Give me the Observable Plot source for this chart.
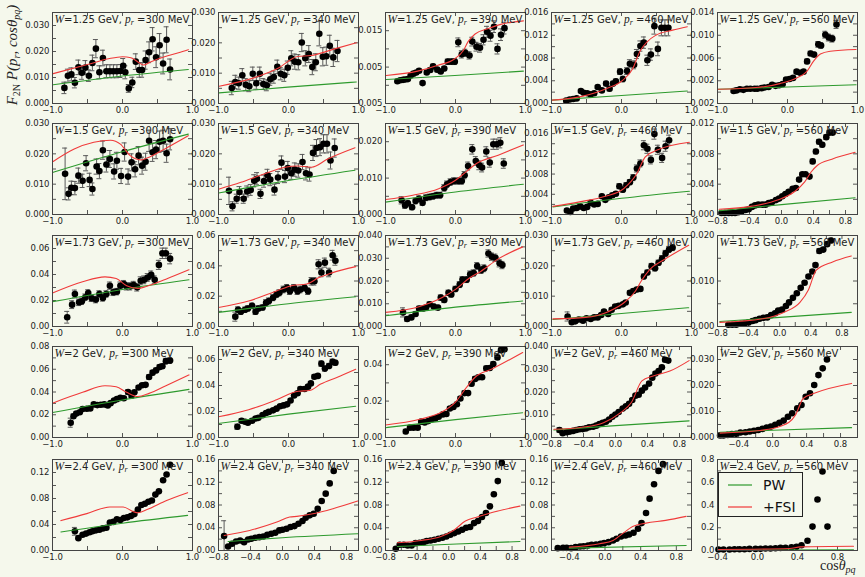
<!DOCTYPE html>
<html><head><meta charset="utf-8">
<script src="https://cdn.jsdelivr.net/npm/d3@7"></script>
<script src="https://cdn.jsdelivr.net/npm/@observablehq/plot@0.6"></script>
<style>
body{margin:0;background:#f5f8ec;}
#fig{position:relative;width:865px;height:577px;background:#f5f8ec;overflow:hidden;}
#fig svg.pp{position:absolute;}
</style></head><body><div id="fig"></div>
<script>
// ---------- labels ----------
const W_LABELS = ["1.25","1.5","1.73","2","2.4"];
const PR_LABELS = ["300","340","390","460","560"];
const LEGEND = ["PW","+FSI"];
const COLORS = ["#2e9a2e","#f03a3a"];

// ---------- data: [cos, value, error] ----------
const d11=[[-0.83,0.0060,0.0022],[-0.78,0.0107,0.0025],[-0.73,0.0112,0.0025],[-0.68,0.0080,0.0020],[-0.63,0.0139,0.0028],[-0.58,0.0118,0.0025],[-0.53,0.0138,0.0027],[-0.48,0.0107,0.0022],[-0.43,0.0156,0.0030],[-0.38,0.0211,0.0035],[-0.33,0.0120,0.0025],[-0.28,0.0175,0.0030],[-0.23,0.0124,0.0025],[-0.18,0.0124,0.0025],[-0.13,0.0124,0.0025],[-0.08,0.0124,0.0025],[-0.03,0.0125,0.0025],[0.01,0.0145,0.0028],[0.04,0.0120,0.0025],[0.09,0.0058,0.0015],[0.14,0.0081,0.0020],[0.19,0.0161,0.0030],[0.24,0.0129,0.0028],[0.28,0.0129,0.0028],[0.33,0.0167,0.0035],[0.38,0.0197,0.0040],[0.43,0.0247,0.0045],[0.48,0.0178,0.0040],[0.53,0.0224,0.0045],[0.58,0.0154,0.0040],[0.63,0.0245,0.0050],[0.68,0.0131,0.0040]];
const r11=[[-0.99,0.0115],[-0.5,0.0150],[-0.2,0.0172],[0.0,0.0180],[0.12,0.0176],[0.22,0.0160],[0.3,0.0148],[0.4,0.0160],[0.6,0.0180],[0.8,0.0195],[0.94,0.0207]];
const g11=[[-0.99,0.0072],[0.0,0.0106],[0.94,0.0131]];

const d12=[[-0.81,0.0051,0.0022],[-0.76,0.0071,0.0022],[-0.71,0.0067,0.0020],[-0.66,0.0093,0.0022],[-0.61,0.0062,0.0020],[-0.56,0.0057,0.0018],[-0.51,0.0098,0.0022],[-0.46,0.0067,0.0020],[-0.41,0.0098,0.0022],[-0.36,0.0064,0.0018],[-0.31,0.0060,0.0018],[-0.26,0.0080,0.0020],[-0.21,0.0087,0.0020],[-0.16,0.0121,0.0022],[-0.11,0.0098,0.0020],[-0.06,0.0093,0.0020],[-0.01,0.0118,0.0022],[0.04,0.0149,0.0025],[0.09,0.0138,0.0025],[0.14,0.0136,0.0025],[0.19,0.0201,0.0030],[0.24,0.0149,0.0025],[0.29,0.0163,0.0028],[0.34,0.0120,0.0025],[0.39,0.0136,0.0028],[0.44,0.0230,0.0040],[0.49,0.0154,0.0030],[0.54,0.0156,0.0030],[0.59,0.0190,0.0035],[0.64,0.0152,0.0030],[0.70,0.0173,0.0035]];
const r12=[[-0.99,0.0057],[-0.53,0.0082],[-0.15,0.0116],[0.13,0.0155],[0.32,0.0158],[0.66,0.0180],[0.97,0.0200]];
const g12=[[-0.99,0.0035],[-0.01,0.0054],[0.97,0.0071]];

const d13=[[-0.83,0.0011,0.0004],[-0.79,0.0014,0.0004],[-0.75,0.0015,0.0004],[-0.72,0.0016,0.0004],[-0.68,0.0017,0.0004],[-0.64,0.0027,0.0004],[-0.60,0.0032,0.0005],[-0.56,0.0035,0.0005],[-0.52,0.0040,0.0005],[-0.47,0.0006,0.0003],[-0.41,0.0035,0.0005],[-0.36,0.0042,0.0006],[-0.32,0.0052,0.0006],[-0.26,0.0043,0.0006],[-0.21,0.0038,0.0006],[-0.16,0.0046,0.0006],[-0.11,0.0065,0.0007],[-0.06,0.0065,0.0007],[-0.01,0.0065,0.0008],[0.04,0.0118,0.0012],[0.09,0.0085,0.0010],[0.14,0.0089,0.0010],[0.20,0.0082,0.0010],[0.24,0.0120,0.0012],[0.30,0.0106,0.0012],[0.35,0.0103,0.0012],[0.40,0.0125,0.0014],[0.45,0.0147,0.0015],[0.50,0.0136,0.0015],[0.55,0.0161,0.0016],[0.60,0.0100,0.0014],[0.65,0.0139,0.0016],[0.70,0.0157,0.0016]];
const r13=[[-0.99,0.0027],[-0.54,0.0039],[-0.25,0.0055],[-0.01,0.0073],[0.11,0.0095],[0.18,0.0120],[0.28,0.0141],[0.47,0.0156],[0.66,0.0168],[0.97,0.0177]];
const g13=[[-0.99,0.0016],[-0.01,0.0027],[0.97,0.0039]];

const d14=[[-0.79,0.0005,0.0002],[-0.74,0.0007,0.0002],[-0.69,0.0008,0.0002],[-0.64,0.0009,0.0002],[-0.58,0.0022,0.0003],[-0.54,0.0019,0.0003],[-0.49,0.0018,0.0003],[-0.44,0.0016,0.0003],[-0.39,0.0018,0.0003],[-0.34,0.0029,0.0003],[-0.28,0.0023,0.0003],[-0.22,0.0035,0.0004],[-0.17,0.0026,0.0004],[-0.12,0.0035,0.0004],[-0.08,0.0039,0.0004],[-0.02,0.0056,0.0005],[0.02,0.0043,0.0005],[0.08,0.0057,0.0006],[0.12,0.0070,0.0007],[0.18,0.0068,0.0007],[0.22,0.0087,0.0008],[0.27,0.0101,0.0009],[0.32,0.0107,0.0010],[0.37,0.0076,0.0009],[0.42,0.0086,0.0010],[0.47,0.0136,0.0014],[0.52,0.0096,0.0012],[0.57,0.0133,0.0014],[0.62,0.0133,0.0014],[0.67,0.0133,0.0014]];
const r14=[[-0.99,0.0006],[-0.55,0.0013],[-0.22,0.0026],[0.02,0.0041],[0.16,0.0061],[0.26,0.0091],[0.37,0.0109],[0.49,0.0120],[0.73,0.0129],[0.94,0.0135]];
const g14=[[-0.99,0.0006],[0.0,0.0014],[0.94,0.0022]];

const d15=[[-0.77,0.0002,0.0002],[-0.73,0.0003,0.0002],[-0.68,0.0005,0.0002],[-0.63,0.0004,0.0002],[-0.58,0.0006,0.0002],[-0.53,0.0006,0.0002],[-0.47,0.0006,0.0002],[-0.43,0.0006,0.0002],[-0.37,0.0007,0.0002],[-0.33,0.0008,0.0002],[-0.27,0.0009,0.0002],[-0.22,0.0013,0.0002],[-0.17,0.0011,0.0002],[-0.12,0.0012,0.0002],[-0.07,0.0014,0.0002],[-0.02,0.0022,0.0003],[0.03,0.0023,0.0003],[0.08,0.0025,0.0003],[0.13,0.0036,0.0003],[0.18,0.0034,0.0003],[0.23,0.0036,0.0003],[0.28,0.0054,0.0004],[0.33,0.0068,0.0004],[0.38,0.0066,0.0004],[0.44,0.0084,0.0005],[0.48,0.0082,0.0005],[0.54,0.0101,0.0006],[0.59,0.0096,0.0006],[0.64,0.0094,0.0006],[0.70,0.0119,0.0007]];
const r15=[[-0.99,0.0005],[-0.45,0.0008],[-0.11,0.0015],[0.13,0.0025],[0.28,0.0037],[0.37,0.0054],[0.47,0.0067],[0.61,0.0072],[0.98,0.0075]];
const g15=[[-0.99,0.0005],[0.0,0.0009],[0.98,0.0013]];

const d21=[[-0.82,0.0134,0.0085],[-0.77,0.0068,0.0020],[-0.73,0.0088,0.0022],[-0.68,0.0087,0.0022],[-0.63,0.0128,0.0025],[-0.57,0.0111,0.0022],[-0.52,0.0169,0.0025],[-0.47,0.0114,0.0022],[-0.43,0.0084,0.0020],[-0.37,0.0158,0.0025],[-0.33,0.0143,0.0025],[-0.28,0.0212,0.0030],[-0.23,0.0165,0.0025],[-0.18,0.0183,0.0028],[-0.12,0.0142,0.0025],[-0.08,0.0177,0.0028],[-0.02,0.0127,0.0025],[0.03,0.0206,0.0030],[0.08,0.0125,0.0025],[0.13,0.0172,0.0028],[0.18,0.0149,0.0025],[0.23,0.0194,0.0030],[0.28,0.0161,0.0028],[0.33,0.0174,0.0028],[0.38,0.0243,0.0035],[0.43,0.0205,0.0030],[0.48,0.0214,0.0030],[0.53,0.0240,0.0035],[0.58,0.0243,0.0035],[0.63,0.0202,0.0030],[0.68,0.0248,0.0035]];
const r21=[[-0.99,0.0175],[-0.69,0.0216],[-0.41,0.0238],[-0.17,0.0245],[-0.03,0.0232],[0.11,0.0194],[0.26,0.0180],[0.35,0.0186],[0.64,0.0221],[0.94,0.0260]];
const g21=[[-0.99,0.0139],[-0.03,0.0205],[0.94,0.0265]];

const d22=[[-0.85,0.0078,0.0045],[-0.80,0.0027,0.0015],[-0.74,0.0052,0.0015],[-0.70,0.0074,0.0018],[-0.64,0.0052,0.0015],[-0.59,0.0076,0.0018],[-0.54,0.0081,0.0018],[-0.49,0.0111,0.0020],[-0.45,0.0118,0.0020],[-0.40,0.0068,0.0015],[-0.35,0.0110,0.0020],[-0.30,0.0129,0.0020],[-0.26,0.0115,0.0020],[-0.20,0.0082,0.0018],[-0.15,0.0122,0.0020],[-0.10,0.0171,0.0022],[-0.05,0.0125,0.0020],[-0.01,0.0153,0.0022],[0.04,0.0136,0.0020],[0.09,0.0148,0.0022],[0.14,0.0145,0.0022],[0.20,0.0173,0.0025],[0.25,0.0136,0.0022],[0.30,0.0132,0.0022],[0.35,0.0203,0.0025],[0.40,0.0219,0.0028],[0.45,0.0222,0.0028],[0.50,0.0233,0.0030],[0.55,0.0233,0.0030],[0.60,0.0178,0.0028],[0.66,0.0219,0.0030]];
const r22=[[-1.0,0.0083],[-0.68,0.0106],[-0.37,0.0132],[-0.05,0.0156],[0.13,0.0160],[0.33,0.0156],[0.56,0.0183],[0.95,0.0220]];
const g22=[[-1.0,0.0071],[0.0,0.0112],[0.95,0.0146]];

const d23=[[-0.77,0.0039,0.0010],[-0.72,0.0025,0.0008],[-0.68,0.0031,0.0008],[-0.62,0.0020,0.0007],[-0.57,0.0037,0.0008],[-0.52,0.0043,0.0008],[-0.47,0.0032,0.0007],[-0.42,0.0046,0.0008],[-0.37,0.0048,0.0008],[-0.32,0.0050,0.0008],[-0.27,0.0053,0.0008],[-0.22,0.0053,0.0008],[-0.16,0.0073,0.0009],[-0.12,0.0083,0.0009],[-0.07,0.0089,0.0009],[-0.02,0.0092,0.0009],[0.04,0.0092,0.0009],[0.09,0.0092,0.0009],[0.13,0.0108,0.0010],[0.18,0.0133,0.0011],[0.24,0.0179,0.0013],[0.29,0.0147,0.0012],[0.34,0.0135,0.0012],[0.38,0.0129,0.0012],[0.44,0.0173,0.0013],[0.49,0.0143,0.0013],[0.54,0.0193,0.0014],[0.59,0.0193,0.0014],[0.64,0.0197,0.0014],[0.69,0.0140,0.0013]];
const r23=[[-1.0,0.0041],[-0.61,0.0053],[-0.24,0.0071],[0.0,0.0094],[0.15,0.0117],[0.30,0.0140],[0.61,0.0163],[0.97,0.0191]];
const g23=[[-1.0,0.0034],[0.0,0.0062],[0.97,0.0083]];

const d24=[[-0.78,0.0008,0.0003],[-0.73,0.0005,0.0003],[-0.69,0.0012,0.0003],[-0.64,0.0013,0.0003],[-0.59,0.0016,0.0003],[-0.54,0.0013,0.0003],[-0.49,0.0015,0.0003],[-0.44,0.0023,0.0003],[-0.39,0.0020,0.0003],[-0.34,0.0021,0.0003],[-0.28,0.0036,0.0004],[-0.23,0.0029,0.0004],[-0.18,0.0034,0.0004],[-0.13,0.0038,0.0004],[-0.08,0.0041,0.0004],[-0.03,0.0056,0.0005],[0.02,0.0049,0.0005],[0.07,0.0058,0.0005],[0.12,0.0064,0.0005],[0.17,0.0073,0.0006],[0.22,0.0091,0.0007],[0.27,0.0101,0.0007],[0.32,0.0137,0.0009],[0.37,0.0130,0.0009],[0.42,0.0108,0.0008],[0.47,0.0159,0.0010],[0.52,0.0128,0.0009],[0.58,0.0112,0.0009],[0.63,0.0135,0.0010],[0.68,0.0147,0.0010]];
const r24=[[-0.98,0.0016],[-0.60,0.0025],[-0.23,0.0036],[0.03,0.0051],[0.22,0.0081],[0.34,0.0114],[0.52,0.0128],[0.97,0.0143]];
const g24=[[-0.98,0.0015],[0.0,0.0032],[0.97,0.0046]];

const d25=[[-0.75,0.0002,0.0001],[-0.71,0.0002,0.0001],[-0.66,0.0002,0.0001],[-0.62,0.0002,0.0001],[-0.58,0.0002,0.0001],[-0.54,0.0003,0.0001],[-0.50,0.0004,0.0001],[-0.45,0.0006,0.0001],[-0.41,0.0007,0.0001],[-0.37,0.0010,0.0001],[-0.33,0.0012,0.0001],[-0.29,0.0013,0.0001],[-0.24,0.0013,0.0001],[-0.20,0.0013,0.0001],[-0.16,0.0015,0.0001],[-0.12,0.0016,0.0001],[-0.07,0.0019,0.0002],[-0.03,0.0021,0.0002],[0.01,0.0024,0.0002],[0.05,0.0027,0.0002],[0.09,0.0030,0.0002],[0.14,0.0034,0.0002],[0.18,0.0035,0.0002],[0.22,0.0046,0.0002],[0.26,0.0053,0.0002],[0.30,0.0053,0.0002],[0.35,0.0050,0.0002],[0.39,0.0070,0.0003],[0.43,0.0083,0.0003],[0.47,0.0096,0.0003],[0.51,0.0092,0.0003],[0.56,0.0102,0.0003],[0.60,0.0108,0.0003],[0.64,0.0108,0.0003]];
const r25=[[-0.78,0.0007],[-0.37,0.0011],[-0.05,0.0019],[0.16,0.0030],[0.29,0.0043],[0.37,0.0056],[0.45,0.0065],[0.63,0.0073],[0.92,0.0082]];
const g25=[[-0.78,0.0005],[0.0,0.0013],[0.92,0.0022]];

const d31=[[-0.79,0.0071,0.0045],[-0.72,0.0168,0.0030],[-0.68,0.0250,0.0030],[-0.62,0.0186,0.0025],[-0.58,0.0194,0.0025],[-0.53,0.0225,0.0025],[-0.49,0.0258,0.0025],[-0.44,0.0217,0.0025],[-0.38,0.0207,0.0025],[-0.33,0.0250,0.0025],[-0.28,0.0220,0.0025],[-0.23,0.0250,0.0025],[-0.18,0.0314,0.0028],[-0.13,0.0263,0.0025],[-0.08,0.0268,0.0025],[-0.03,0.0314,0.0028],[0.02,0.0326,0.0028],[0.06,0.0309,0.0028],[0.11,0.0309,0.0028],[0.16,0.0319,0.0028],[0.21,0.0301,0.0028],[0.26,0.0352,0.0030],[0.31,0.0359,0.0030],[0.36,0.0377,0.0030],[0.41,0.0397,0.0030],[0.46,0.0359,0.0030],[0.52,0.0474,0.0035],[0.57,0.0563,0.0040],[0.62,0.0563,0.0040],[0.68,0.0522,0.0040]];
const r31=[[-1.0,0.0257],[-0.57,0.0344],[-0.25,0.0382],[-0.09,0.0369],[0.06,0.0313],[0.22,0.0293],[0.34,0.0308],[0.62,0.0364],[0.95,0.0436]];
const g31=[[-1.0,0.0191],[0.0,0.0285],[0.95,0.0359]];

const d32=[[-0.76,0.0065,0.0030],[-0.72,0.0110,0.0020],[-0.68,0.0097,0.0018],[-0.62,0.0110,0.0018],[-0.58,0.0119,0.0018],[-0.52,0.0136,0.0018],[-0.47,0.0097,0.0018],[-0.43,0.0119,0.0018],[-0.37,0.0125,0.0018],[-0.32,0.0157,0.0020],[-0.28,0.0168,0.0020],[-0.22,0.0190,0.0020],[-0.17,0.0211,0.0020],[-0.13,0.0222,0.0020],[-0.07,0.0244,0.0022],[-0.02,0.0255,0.0022],[0.02,0.0233,0.0022],[0.08,0.0255,0.0022],[0.13,0.0233,0.0022],[0.17,0.0244,0.0022],[0.23,0.0255,0.0022],[0.28,0.0233,0.0022],[0.33,0.0298,0.0025],[0.37,0.0298,0.0025],[0.43,0.0410,0.0030],[0.47,0.0356,0.0028],[0.52,0.0421,0.0030],[0.58,0.0356,0.0028],[0.63,0.0470,0.0032],[0.67,0.0434,0.0030]];
const r32=[[-1.0,0.0125],[-0.57,0.0168],[-0.18,0.0233],[0.06,0.0270],[0.26,0.0280],[0.42,0.0319],[0.61,0.0352],[0.96,0.0395]];
const g32=[[-1.0,0.0093],[0.0,0.0150],[0.96,0.0196]];

const d33=[[-0.75,0.0062,0.0020],[-0.69,0.0033,0.0010],[-0.63,0.0040,0.0010],[-0.57,0.0055,0.0010],[-0.52,0.0079,0.0010],[-0.46,0.0079,0.0010],[-0.42,0.0083,0.0010],[-0.37,0.0098,0.0010],[-0.31,0.0088,0.0010],[-0.25,0.0083,0.0010],[-0.21,0.0127,0.0012],[-0.16,0.0117,0.0012],[-0.10,0.0148,0.0012],[-0.06,0.0141,0.0012],[0.0,0.0165,0.0012],[0.06,0.0184,0.0013],[0.10,0.0206,0.0013],[0.16,0.0206,0.0013],[0.21,0.0230,0.0014],[0.26,0.0235,0.0014],[0.31,0.0266,0.0015],[0.37,0.0248,0.0015],[0.41,0.0256,0.0015],[0.47,0.0321,0.0016],[0.52,0.0307,0.0016],[0.57,0.0302,0.0016],[0.63,0.0278,0.0016],[0.67,0.0270,0.0016]];
const r33=[[-1.0,0.0062],[-0.51,0.0088],[-0.19,0.0127],[0.0,0.0163],[0.20,0.0213],[0.36,0.0242],[0.60,0.0295],[0.96,0.0350]];
const g33=[[-1.0,0.0047],[0.0,0.0085],[0.96,0.0112]];

const d34=[[-0.77,0.0033,0.0015],[-0.71,0.0014,0.0005],[-0.66,0.0017,0.0005],[-0.61,0.0023,0.0005],[-0.55,0.0019,0.0005],[-0.50,0.0027,0.0005],[-0.44,0.0025,0.0005],[-0.39,0.0030,0.0005],[-0.34,0.0030,0.0005],[-0.29,0.0038,0.0005],[-0.25,0.0049,0.0005],[-0.19,0.0041,0.0005],[-0.14,0.0055,0.0006],[-0.09,0.0066,0.0006],[-0.04,0.0068,0.0006],[0.02,0.0073,0.0006],[0.06,0.0079,0.0006],[0.12,0.0111,0.0007],[0.17,0.0117,0.0007],[0.22,0.0122,0.0007],[0.27,0.0124,0.0007],[0.32,0.0165,0.0008],[0.37,0.0178,0.0008],[0.43,0.0199,0.0009],[0.48,0.0192,0.0009],[0.53,0.0210,0.0009],[0.58,0.0224,0.0010],[0.63,0.0241,0.0010],[0.68,0.0254,0.0010],[0.73,0.0260,0.0010]];
const r34=[[-0.98,0.0025],[-0.51,0.0030],[-0.19,0.0049],[0.04,0.0079],[0.20,0.0117],[0.28,0.0149],[0.40,0.0187],[0.60,0.0219],[0.96,0.0268]];
const g34=[[-0.98,0.0023],[0.0,0.0043],[0.96,0.0062]];

const d35=[[-0.66,0.0004,0.0002],[-0.61,0.0004,0.0002],[-0.56,0.0004,0.0002],[-0.50,0.0006,0.0002],[-0.45,0.0007,0.0002],[-0.40,0.0009,0.0002],[-0.35,0.0012,0.0002],[-0.31,0.0014,0.0002],[-0.26,0.0017,0.0002],[-0.21,0.0019,0.0002],[-0.16,0.0020,0.0002],[-0.11,0.0025,0.0002],[-0.06,0.0029,0.0002],[-0.02,0.0035,0.0002],[0.03,0.0037,0.0002],[0.08,0.0045,0.0003],[0.12,0.0053,0.0003],[0.17,0.0063,0.0003],[0.22,0.0073,0.0003],[0.27,0.0085,0.0003],[0.32,0.0096,0.0003],[0.37,0.0110,0.0003],[0.42,0.0121,0.0004],[0.46,0.0135,0.0004],[0.51,0.0166,0.0005],[0.56,0.0169,0.0005],[0.61,0.0181,0.0005],[0.66,0.0189,0.0005]];
const r35=[[-0.77,0.0009],[-0.22,0.0017],[0.05,0.0031],[0.26,0.0053],[0.37,0.0081],[0.47,0.0124],[0.68,0.0142],[0.92,0.0155]];
const g35=[[-0.77,0.0011],[0.0,0.0020],[0.92,0.0031]];

const d41=[[-0.74,0.0130,0.0040],[-0.70,0.0187,0.0020],[-0.66,0.0210,0.0015],[-0.61,0.0222,0.0015],[-0.57,0.0250,0.0015],[-0.51,0.0253,0.0015],[-0.46,0.0256,0.0015],[-0.41,0.0291,0.0015],[-0.36,0.0285,0.0015],[-0.31,0.0288,0.0015],[-0.26,0.0291,0.0015],[-0.21,0.0282,0.0015],[-0.17,0.0302,0.0015],[-0.12,0.0325,0.0015],[-0.08,0.0337,0.0015],[-0.03,0.0348,0.0015],[0.02,0.0345,0.0015],[0.08,0.0400,0.0020],[0.13,0.0368,0.0015],[0.17,0.0397,0.0015],[0.23,0.0440,0.0015],[0.28,0.0460,0.0015],[0.33,0.0463,0.0015],[0.38,0.0532,0.0020],[0.43,0.0570,0.0020],[0.48,0.0590,0.0020],[0.53,0.0619,0.0020],[0.57,0.0627,0.0020],[0.62,0.0671,0.0025],[0.68,0.0676,0.0025]];
const r41=[[-1.0,0.0302],[-0.57,0.0397],[-0.25,0.0455],[-0.09,0.0446],[0.06,0.0397],[0.22,0.0360],[0.38,0.0388],[0.62,0.0455],[0.95,0.0550]];
const g41=[[-1.0,0.0219],[0.0,0.0330],[0.95,0.0423]];

const d42=[[-0.73,0.0083,0.0020],[-0.67,0.0129,0.0015],[-0.62,0.0121,0.0012],[-0.58,0.0113,0.0012],[-0.52,0.0129,0.0012],[-0.47,0.0146,0.0012],[-0.43,0.0151,0.0012],[-0.37,0.0172,0.0012],[-0.32,0.0189,0.0012],[-0.28,0.0197,0.0012],[-0.22,0.0209,0.0012],[-0.17,0.0222,0.0012],[-0.12,0.0240,0.0012],[-0.07,0.0247,0.0012],[-0.02,0.0255,0.0012],[0.03,0.0285,0.0012],[0.08,0.0323,0.0015],[0.13,0.0340,0.0015],[0.17,0.0373,0.0015],[0.23,0.0373,0.0015],[0.28,0.0391,0.0015],[0.32,0.0416,0.0015],[0.37,0.0467,0.0015],[0.42,0.0474,0.0015],[0.47,0.0568,0.0020],[0.52,0.0530,0.0020],[0.58,0.0550,0.0020],[0.63,0.0583,0.0020],[0.67,0.0575,0.0020]];
const r42=[[-1.0,0.0159],[-0.57,0.0214],[-0.17,0.0290],[0.14,0.0356],[0.30,0.0361],[0.46,0.0411],[0.69,0.0462],[0.96,0.0525]];
const g42=[[-1.0,0.0108],[0.0,0.0180],[0.96,0.0240]];

const d43=[[-0.71,0.0033,0.0012],[-0.65,0.0054,0.0010],[-0.60,0.0054,0.0010],[-0.54,0.0054,0.0010],[-0.49,0.0087,0.0010],[-0.44,0.0083,0.0010],[-0.39,0.0090,0.0010],[-0.34,0.0100,0.0010],[-0.29,0.0105,0.0010],[-0.24,0.0114,0.0010],[-0.18,0.0127,0.0010],[-0.13,0.0129,0.0010],[-0.08,0.0159,0.0010],[-0.03,0.0168,0.0010],[0.02,0.0183,0.0010],[0.07,0.0214,0.0010],[0.13,0.0244,0.0012],[0.18,0.0244,0.0012],[0.23,0.0295,0.0012],[0.28,0.0322,0.0012],[0.33,0.0331,0.0012],[0.38,0.0331,0.0012],[0.44,0.0380,0.0012],[0.49,0.0382,0.0012],[0.54,0.0404,0.0012],[0.60,0.0440,0.0012],[0.65,0.0480,0.0012],[0.70,0.0485,0.0012]];
const r43=[[-1.0,0.0069],[-0.51,0.0100],[-0.19,0.0141],[0.0,0.0195],[0.16,0.0277],[0.28,0.0331],[0.52,0.0376],[0.96,0.0467]];
const g43=[[-1.0,0.0054],[0.0,0.0098],[0.96,0.0136]];

const d44=[[-0.70,0.0033,0.0010],[-0.66,0.0019,0.0005],[-0.61,0.0023,0.0004],[-0.57,0.0026,0.0004],[-0.53,0.0029,0.0004],[-0.49,0.0033,0.0004],[-0.45,0.0036,0.0004],[-0.41,0.0037,0.0004],[-0.37,0.0040,0.0004],[-0.33,0.0045,0.0004],[-0.28,0.0047,0.0004],[-0.24,0.0052,0.0004],[-0.20,0.0059,0.0004],[-0.16,0.0065,0.0004],[-0.12,0.0069,0.0004],[-0.08,0.0079,0.0004],[-0.04,0.0091,0.0005],[0.0,0.0101,0.0005],[0.04,0.0112,0.0005],[0.09,0.0127,0.0005],[0.13,0.0137,0.0005],[0.17,0.0148,0.0005],[0.21,0.0165,0.0006],[0.25,0.0184,0.0006],[0.29,0.0188,0.0006],[0.33,0.0206,0.0006],[0.37,0.0220,0.0007],[0.42,0.0237,0.0007],[0.46,0.0263,0.0007],[0.50,0.0281,0.0008],[0.54,0.0292,0.0008],[0.58,0.0309,0.0008],[0.62,0.0342,0.0009],[0.66,0.0338,0.0009]];
const r44=[[-0.77,0.0036],[-0.42,0.0045],[-0.15,0.0065],[0.06,0.0108],[0.20,0.0155],[0.33,0.0249],[0.47,0.0270],[0.68,0.0292],[0.92,0.0338]];
const g44=[[-0.77,0.0033],[0.0,0.0052],[0.92,0.0073]];

const d45=[[-0.62,0.0008,0.0002],[-0.58,0.0008,0.0002],[-0.53,0.0010,0.0002],[-0.48,0.0013,0.0002],[-0.43,0.0014,0.0002],[-0.38,0.0019,0.0002],[-0.32,0.0020,0.0002],[-0.27,0.0023,0.0002],[-0.22,0.0026,0.0002],[-0.17,0.0029,0.0002],[-0.12,0.0033,0.0002],[-0.07,0.0038,0.0002],[-0.02,0.0042,0.0002],[0.03,0.0049,0.0002],[0.08,0.0057,0.0003],[0.13,0.0065,0.0003],[0.18,0.0080,0.0003],[0.23,0.0093,0.0003],[0.29,0.0112,0.0003],[0.34,0.0125,0.0003],[0.39,0.0157,0.0004],[0.44,0.0170,0.0004],[0.49,0.0202,0.0004],[0.54,0.0240,0.0005],[0.59,0.0266,0.0005],[0.64,0.0300,0.0005]];
const r45=[[-0.62,0.0017],[-0.15,0.0027],[0.11,0.0045],[0.27,0.0087],[0.36,0.0150],[0.49,0.0170],[0.93,0.0208]];
const g45=[[-0.62,0.0020],[0.0,0.0028],[0.93,0.0038]];

const d51=[[-0.68,0.0295,0.0060],[-0.63,0.0190,0.0015],[-0.57,0.0243,0.0012],[-0.52,0.0260,0.0012],[-0.47,0.0280,0.0012],[-0.43,0.0295,0.0012],[-0.38,0.0310,0.0012],[-0.33,0.0320,0.0012],[-0.28,0.0340,0.0012],[-0.23,0.0350,0.0012],[-0.18,0.0430,0.0012],[-0.13,0.0440,0.0012],[-0.08,0.0480,0.0012],[-0.03,0.0470,0.0012],[0.02,0.0500,0.0012],[0.07,0.0510,0.0012],[0.12,0.0530,0.0012],[0.17,0.0560,0.0012],[0.22,0.0630,0.0012],[0.27,0.0700,0.0015],[0.32,0.0720,0.0015],[0.37,0.0750,0.0015],[0.42,0.0770,0.0015],[0.47,0.0860,0.0015],[0.52,0.0910,0.0015],[0.58,0.1080,0.0015],[0.63,0.1170,0.0015],[0.68,0.1320,0.0015]];
const r51=[[-0.88,0.0460],[-0.51,0.0567],[-0.18,0.0670],[0.01,0.0670],[0.15,0.0600],[0.22,0.0580],[0.35,0.0630],[0.63,0.0770],[0.93,0.0890]];
const g51=[[-0.88,0.0285],[0.0,0.0420],[0.93,0.0540]];

const d52=[[-0.73,0.0253,0.027],[-0.68,0.0071,0],[-0.63,0.0118,0],[-0.58,0.0159,0],[-0.53,0.0176,0],[-0.48,0.0147,0],[-0.43,0.0194,0],[-0.39,0.0206,0],[-0.34,0.0224,0],[-0.29,0.0235,0],[-0.24,0.0247,0],[-0.19,0.0276,0],[-0.14,0.0294,0],[-0.09,0.0312,0],[-0.04,0.0353,0],[0.0,0.0365,0],[0.05,0.0382,0],[0.10,0.0412,0],[0.15,0.0429,0],[0.20,0.0471,0],[0.25,0.0518,0],[0.29,0.0576,0],[0.34,0.0618,0],[0.39,0.0647,0],[0.44,0.0735,0],[0.49,0.0871,0],[0.54,0.1000,0],[0.59,0.1180,0],[0.64,0.1400,0]];
const r52=[[-0.73,0.0265],[-0.41,0.0353],[-0.07,0.0500],[0.09,0.0588],[0.18,0.0600],[0.38,0.0647],[0.63,0.0735],[0.94,0.0870]];
const g52=[[-0.68,0.0159],[0.0,0.0225],[0.94,0.0294]];

const d53=[[-0.67,0.0030,0],[-0.62,0.0100,0],[-0.57,0.0100,0],[-0.52,0.0088,0],[-0.47,0.0088,0],[-0.42,0.0129,0],[-0.37,0.0135,0],[-0.32,0.0147,0],[-0.28,0.0165,0],[-0.23,0.0176,0],[-0.18,0.0188,0],[-0.13,0.0206,0],[-0.08,0.0224,0],[-0.03,0.0247,0],[0.02,0.0276,0],[0.07,0.0306,0],[0.12,0.0335,0],[0.17,0.0365,0],[0.22,0.0400,0],[0.27,0.0412,0],[0.32,0.0482,0],[0.37,0.0518,0],[0.42,0.0588,0],[0.47,0.0659,0],[0.52,0.0776,0],[0.57,0.0988,0],[0.62,0.1220,0],[0.67,0.1540,0]];
const r53=[[-0.65,0.0135],[-0.35,0.0176],[-0.10,0.0247],[0.06,0.0353],[0.21,0.0518],[0.36,0.0588],[0.57,0.0676],[0.90,0.0780]];
const g53=[[-0.65,0.0070],[0.1,0.0115],[0.90,0.0159]];

const d54=[[-0.53,0.0041,0],[-0.47,0.0047,0],[-0.43,0.0047,0],[-0.38,0.0041,0],[-0.33,0.0059,0],[-0.28,0.0071,0],[-0.24,0.0076,0],[-0.19,0.0088,0],[-0.15,0.0100,0],[-0.10,0.0106,0],[-0.05,0.0118,0],[-0.01,0.0129,0],[0.04,0.0147,0],[0.09,0.0176,0],[0.13,0.0206,0],[0.18,0.0247,0],[0.23,0.0265,0],[0.27,0.0282,0],[0.32,0.0312,0],[0.37,0.0382,0],[0.41,0.0482,0],[0.46,0.0659,0],[0.50,0.0912,0],[0.55,0.1165,0],[0.60,0.1400,0],[0.65,0.1518,0]];
const r54=[[-0.40,0.0059],[-0.06,0.0118],[0.09,0.0176],[0.22,0.0324],[0.31,0.0424],[0.46,0.0482],[0.68,0.0529],[0.91,0.0600]];
const g54=[[-0.40,0.0041],[0.91,0.0088]];

const d55=[[-0.39,0.0086,0],[-0.34,0.0086,0],[-0.28,0.0086,0],[-0.23,0.0115,0],[-0.18,0.0115,0],[-0.13,0.0115,0],[-0.08,0.0140,0],[-0.02,0.0140,0],[0.03,0.0145,0],[0.08,0.0170,0],[0.13,0.0175,0],[0.18,0.0200,0],[0.23,0.0230,0],[0.28,0.0240,0],[0.34,0.0290,0],[0.39,0.0320,0],[0.44,0.0460,0],[0.50,0.0860,0],[0.55,0.2100,0],[0.60,0.4490,0],[0.65,0.6940,0],[0.70,0.2100,0]];
const r55=[[-0.39,0.0086],[0.32,0.0170],[0.43,0.0320],[0.96,0.0370]];
const g55=[[-0.39,0.0030],[0.96,0.0060]];

// ---------- axis settings per panel (row-major) ----------
const X_FULL=[-1,1], X_08=[-0.8,0.95];
const XDOM=[X_FULL,X_FULL,X_FULL,X_FULL,X_FULL,
            X_FULL,X_FULL,X_FULL,X_FULL,X_08,
            X_FULL,X_FULL,X_FULL,X_FULL,[-0.8,1.0],
            X_FULL,X_FULL,X_FULL,X_08,[-0.65,1.0],
            X_FULL,X_08,[-0.8,0.97],[-0.6,0.97],[-0.4,1.0]];
const XTICKS_FULL=[-1,0,1], XMINOR_FULL=[-0.5,0.5];
const XTICKS_04=[-0.8,-0.4,0,0.4,0.8], XMINOR_04=[-0.6,-0.2,0.2,0.6,1.0];
const YDOM=[[0,0.035],[0,0.03],[-0.005,0.02],[0,0.016],[-0.002,0.014],
            [0,0.03],[0,0.03],[0,0.025],[0,0.018],[0,0.012],
            [0,0.07],[0,0.06],[0,0.04],[0,0.03],[0,0.02],
            [0,0.08],[0,0.07],[0,0.05],[0,0.04],[0,0.035],
            [0,0.14],[0,0.16],[0,0.16],[0,0.16],[0,0.8]];
const YSTEP=[0.01,0.01,0.01,0.004,0.004,
             0.01,0.01,0.01,0.004,0.004,
             0.02,0.02,0.01,0.01,0.01,
             0.02,0.02,0.02,0.01,0.01,
             0.04,0.04,0.04,0.04,0.2];
const YDEC=[3,3,3,3,3, 3,3,3,3,3, 2,2,3,3,3, 2,2,2,3,3, 2,2,2,2,1];

const DATA=[d11,d12,d13,d14,d15,d21,d22,d23,d24,d25,d31,d32,d33,d34,d35,d41,d42,d43,d44,d45,d51,d52,d53,d54,d55];
const RED=[r11,r12,r13,r14,r15,r21,r22,r23,r24,r25,r31,r32,r33,r34,r35,r41,r42,r43,r44,r45,r51,r52,r53,r54,r55];
const GREEN=[g11,g12,g13,g14,g15,g21,g22,g23,g24,g25,g31,g32,g33,g34,g35,g41,g42,g43,g44,g45,g51,g52,g53,g54,g55];

// ---------- layout ----------
const COL_LEFT=[52,218,384.5,551,717], ROW_TOP=[12,123,234.5,346,458.5];
const PW=140, PH=91, ML=40, MR=12, MT=6, MB=16;
const NS="http://www.w3.org/2000/svg";
const fig=document.getElementById("fig");
const minus = s => s.replace("-", "\u2212");

function panel(r, c) {
  const k = r*5+c;
  const [x0,x1] = XDOM[k], [y0,y1] = YDOM[k];
  const full = x0 === -1;
  const xt = (full ? XTICKS_FULL : XTICKS_04).filter(v => v >= x0-1e-9 && v <= x1+1e-9);
  const xm = (full ? XMINOR_FULL : XMINOR_04).filter(v => v >= x0-1e-9 && v <= x1+1e-9);
  const st = YSTEP[k];
  const yt = d3.range(0, 60).map(i => +(y0 + i*st).toFixed(6)).filter(v => v <= y1+1e-9);
  const ym = yt.map(v => +(v + st/2).toFixed(6)).filter(v => v <= y1+1e-9);
  const allX = xt.concat(xm), allY = yt.concat(ym);
  const pts = DATA[k], eb = pts.filter(d => d[2] > 0);
  const dec = YDEC[k];
  const fx = d => minus(d.toFixed(1));
  const fy = d => Math.abs(d).toFixed(dec);
  const tickStyle = {stroke: "#444", strokeWidth: 0.9};
  const title = "W=" + W_LABELS[r] + " GeV, pr =" + PR_LABELS[c] + " MeV";
  const svg = Plot.plot({
    width: PW+ML+MR, height: PH+MT+MB,
    marginLeft: ML, marginRight: MR, marginTop: MT, marginBottom: MB,
    style: {background: "transparent", fontFamily: "DejaVu Sans, sans-serif", fontSize: "8.5px", color: "#222", overflow: "visible"},
    x: {domain: [x0,x1], ticks: xt, tickFormat: fx, tickSize: 0, tickPadding: 3, label: null},
    y: {domain: [y0,y1], ticks: yt, tickFormat: fy, tickSize: 0, tickPadding: 3, label: null},
    marks: [
      Plot.ruleX(allX, {x: d => d, y1: y0, y2: y0, insetTop: -4, ...tickStyle}),
      Plot.ruleX(allX, {x: d => d, y1: y1, y2: y1, insetBottom: -4, ...tickStyle}),
      Plot.ruleY(allY, {y: d => d, x1: x0, x2: x0, insetRight: -4, ...tickStyle}),
      Plot.ruleY(allY, {y: d => d, x1: x1, x2: x1, insetLeft: -4, ...tickStyle}),
      Plot.ruleX(eb, {x: d => d[0], y1: d => d[1]-d[2], y2: d => d[1]+d[2], stroke: "#5a5a5a", strokeWidth: 1, clip: true}),
      Plot.ruleY(eb, {y: d => d[1]-d[2], x1: d => d[0], x2: d => d[0], insetLeft: -2.5, insetRight: -2.5, stroke: "#5a5a5a", strokeWidth: 1, clip: true}),
      Plot.ruleY(eb, {y: d => d[1]+d[2], x1: d => d[0], x2: d => d[0], insetLeft: -2.5, insetRight: -2.5, stroke: "#5a5a5a", strokeWidth: 1, clip: true}),
      Plot.dot(pts, {x: d => d[0], y: d => d[1], r: 3.3, fill: "#000", stroke: "none"}),
      Plot.line(GREEN[k], {x: d => d[0], y: d => d[1], stroke: COLORS[0], strokeWidth: 1.1, curve: "monotone-x"}),
      Plot.line(RED[k], {x: d => d[0], y: d => d[1], stroke: COLORS[1], strokeWidth: 1.1, curve: "monotone-x"}),
      Plot.frame({stroke: "#444", strokeWidth: 1}),
      Plot.text([title], {frameAnchor: "top-left", lineAnchor: "bottom", dx: 2, dy: 10.5, text: d => d, fill: "#222", fontSize: 10})
    ]
  });
  svg.setAttribute("class", (svg.getAttribute("class")||"") + " pp");
  svg.style.left = (COL_LEFT[c]-ML) + "px";
  svg.style.top = (ROW_TOP[r]-MT) + "px";
  // rich title: math-italic W and p_r (replace the text mark's content with styled tspans)
  const texts = svg.querySelectorAll('g[aria-label="text"] text');
  const t = texts[texts.length-1];
  if (t) {
    while (t.firstChild) t.removeChild(t.firstChild);
    const add = (s, o) => { const ts = document.createElementNS(NS, "tspan"); ts.textContent = s; for (const a in (o||{})) ts.setAttribute(a, o[a]); t.appendChild(ts); };
    const m = {"font-family": "Liberation Serif, serif", "font-style": "italic", "font-size": 11.5};
    add("W", m);
    add("=" + W_LABELS[r] + " GeV, ");
    add("p", m);
    add("r", {"font-family": "Liberation Serif, serif", "font-style": "italic", "font-size": 8, "dy": 2});
    add(" =" + PR_LABELS[c] + " MeV", {"dy": -2});
  }
  fig.appendChild(svg);
}
for (let r = 0; r < 5; r++) for (let c = 0; c < 5; c++) panel(r, c);

// ---------- y-axis title ----------
(function(){
  const s = document.createElementNS(NS, "svg");
  s.setAttribute("width", 30); s.setAttribute("height", 115);
  s.style.position = "absolute"; s.style.left = "0px"; s.style.top = "0px";
  const t = document.createElementNS(NS, "text");
  t.setAttribute("transform", "translate(17,55) rotate(-90)");
  t.setAttribute("text-anchor", "middle");
  t.setAttribute("font-family", "Liberation Serif, serif");
  t.setAttribute("font-style", "italic");
  t.setAttribute("font-size", 15);
  t.setAttribute("fill", "#222");
  const parts = [["F",{}],["2N",{"font-size":10,"font-style":"normal","dy":3}],[" P(p",{"dy":-3}],["r",{"font-size":10,"dy":3}],[", cos\u03b8",{"dy":-3}],["pq",{"font-size":10,"dy":3}],[")",{"dy":-3}]];
  for (const [txt,o] of parts) { const ts = document.createElementNS(NS,"tspan"); ts.textContent = txt; for (const a in o) ts.setAttribute(a,o[a]); t.appendChild(ts); }
  s.appendChild(t); fig.appendChild(s);
})();

// ---------- x-axis title ----------
(function(){
  const s = document.createElementNS(NS, "svg");
  s.setAttribute("width", 60); s.setAttribute("height", 22);
  s.style.position = "absolute"; s.style.left = "812px"; s.style.top = "555px";
  const t = document.createElementNS(NS, "text");
  t.setAttribute("x", 8); t.setAttribute("y", 15);
  t.setAttribute("font-family", "Liberation Serif, serif");
  t.setAttribute("font-size", 14); t.setAttribute("fill", "#222");
  const parts = [["cos",{}],["\u03b8",{"font-style":"italic"}],["pq",{"font-style":"italic","font-size":10,"dy":3}]];
  for (const [txt,o] of parts) { const ts = document.createElementNS(NS,"tspan"); ts.textContent = txt; for (const a in o) ts.setAttribute(a,o[a]); t.appendChild(ts); }
  s.appendChild(t); fig.appendChild(s);
})();

// ---------- legend (inside last panel) ----------
(function(){
  const box = document.createElement("div");
  box.style.cssText = "position:absolute;left:718px;top:472px;width:83px;height:43px;border:1px solid #222;background:#f5f8ec;font-family:'DejaVu Sans',sans-serif;font-size:14px;color:#111;";
  LEGEND.forEach((lab, i) => {
    const row = document.createElement("div");
    row.style.cssText = "position:absolute;left:9px;top:" + (3 + i*22) + "px;height:18px;display:flex;align-items:center;";
    row.innerHTML = '<svg width="24" height="18"><line x1="0" x2="24" y1="9" y2="9" stroke="' + COLORS[i] + '" stroke-width="1.2"/></svg><span style="margin-left:11px">' + lab + '</span>';
    box.appendChild(row);
  });
  fig.appendChild(box);
})();
</script></body></html>
